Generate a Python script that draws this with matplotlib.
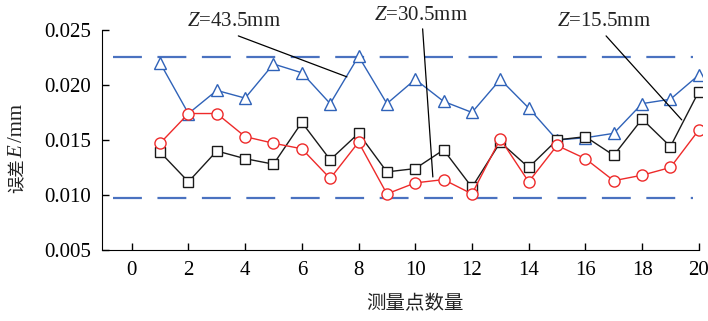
import numpy as np
import matplotlib.pyplot as plt

# measurement point index
points = list(range(1, 21))

# Z=43.5mm (blue triangles)
err_435 = [0.0220, 0.0174, 0.0195, 0.0188, 0.0219, 0.0211, 0.0183, 0.0226, 0.0183, 0.0205,
           0.0185, 0.0175, 0.0205, 0.0179, 0.0150, 0.0152, 0.0156, 0.0183, 0.0187, 0.0209]
# Z=30.5mm (red circles)
err_305 = [0.0147, 0.0174, 0.0174, 0.0153, 0.0147, 0.0142, 0.0115, 0.0148, 0.0101, 0.0111,
           0.0114, 0.0101, 0.0151, 0.0112, 0.0145, 0.0133, 0.0113, 0.0118, 0.0125, 0.0159]
# Z=15.5mm (black squares)
err_155 = [0.0139, 0.0112, 0.0140, 0.0133, 0.0128, 0.0166, 0.0132, 0.0156, 0.0121, 0.0124,
           0.0141, 0.0107, 0.0148, 0.0125, 0.0150, 0.0153, 0.0136, 0.0169, 0.0144, 0.0194]

limit_upper = 0.0225
limit_lower = 0.0097

xticks = list(range(0, 21, 2))
yticks = [0.005, 0.010, 0.015, 0.020, 0.025]

# label text, leader line start/end (data coords)
labels = ['$Z$=43.5mm', '$Z$=30.5mm', '$Z$=15.5mm']
label_pos = [(3.6, 0.02573), (10.2, 0.02627), (16.66, 0.02573)]
leader_start = [(3.76, 0.02445), (10.26, 0.02509), (16.73, 0.02445)]
leader_end = [(7.59, 0.02073), (10.62, 0.01164), (19.40, 0.01682)]

plt.rcParams['font.family'] = ['Liberation Serif', 'Noto Sans CJK SC']
plt.rcParams['mathtext.fontset'] = 'custom'
plt.rcParams['mathtext.it'] = 'Liberation Serif:italic'
plt.rcParams['mathtext.rm'] = 'Liberation Serif'


def main():
    fig = plt.figure(figsize=(7.08, 3.21), dpi=100)
    ax = fig.add_axes([0.144, 0.221, 0.847, 0.686])

    dash_color = '#4a72c0'
    ax.plot([-0.65, 19.8], [limit_upper, limit_upper], color=dash_color, lw=1.6, dashes=(13, 7))
    ax.plot([-0.65, 19.8], [limit_lower, limit_lower], color=dash_color, lw=1.6, dashes=(13, 7))

    ax.plot(points, err_435, color='#2f62b8', lw=1.0, marker='^', ms=9, mfc='white', mew=1.0)
    ax.plot(points, err_155, color='#1a1a1a', lw=1.0, marker='s', ms=7, mfc='white', mew=1.0)
    ax.plot(points, err_305, color='#ee2a2a', lw=1.0, marker='o', ms=8, mfc='white', mew=1.0)

    # annotations
    for txt, pos, s, e in zip(labels, label_pos, leader_start, leader_end):
        ax.annotate('', xy=e, xytext=s, annotation_clip=False,
                    arrowprops=dict(arrowstyle='-', color='black', lw=0.9,
                                    shrinkA=0, shrinkB=0))
        ax.text(pos[0], pos[1], txt, fontsize=15, ha='center', va='center',
                color='#222222', clip_on=False)

    ax.set_xlim(-1.05, 20.1)
    ax.set_ylim(0.005, 0.025)
    ax.set_xticks(xticks)
    ax.set_yticks(yticks)
    ax.set_yticklabels(['%.3f' % v for v in yticks])
    ax.tick_params(direction='in', labelsize=15, length=5, width=1, pad=8)
    ax.spines['top'].set_visible(False)
    ax.spines['right'].set_visible(False)
    ax.spines['bottom'].set_bounds(-1.05, 20)

    # y label built from pieces so CJK and italic E both render
    fig.text(18 / 708, 1 - 176 / 321, '误差', family='Noto Sans CJK SC', fontsize=12.5,
             rotation=90, ha='center', va='center', color='#222222')
    fig.text(18 / 708, 1 - 151.5 / 321, 'E', family='Liberation Serif', style='italic',
             fontsize=15, rotation=90, ha='center', va='center', color='#222222')
    fig.text(18 / 708, 1 - 123 / 321, '/mm', family='Liberation Serif', fontsize=15,
             rotation=90, ha='center', va='center', color='#222222')

    fig.text(415 / 708, 1 - 304 / 321, '测量点数量', family='Noto Sans CJK SC', fontsize=14,
             ha='center', va='center', color='#222222')

    fig.savefig('out.png', dpi=100)


if __name__ == "__main__":
    main()
